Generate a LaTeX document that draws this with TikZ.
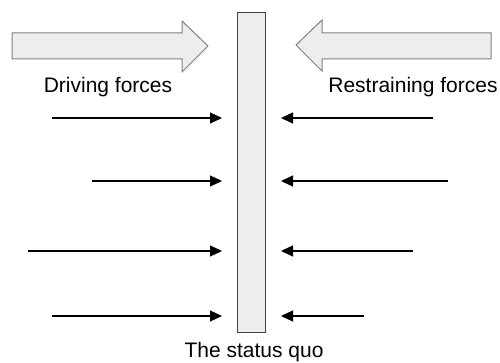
\documentclass[tikz,border=0pt]{standalone}
\usepackage{fontspec}
\setmainfont{Liberation Sans}
\usetikzlibrary{arrows.meta}
\begin{document}
\begin{tikzpicture}[x=1pt,y=-1pt,
  bigarrow/.style={draw=black!50, fill=black!7, line width=1pt, line join=miter},
  force/.style={line width=1.1pt, -{Triangle[length=12pt,width=11pt]}, shorten >=15pt},
  label/.style={font=\fontsize{21}{25}\selectfont, inner sep=0pt}]
\useasboundingbox (0,0) rectangle (500,363);
% the status quo bar
\node[draw=black!75, fill=black!7, line width=1pt, minimum width=28pt, minimum height=320pt,
      inner sep=0pt, anchor=north west] (bar) at (237,12) {};
% large direction arrows
\draw[bigarrow] (12,33) -- (182,33) -- (182,21) -- (208,46) -- (182,72) -- (182,59) -- (12,59) -- cycle;
\draw[bigarrow] (491,33) -- (322,33) -- (322,20) -- (296,45) -- (322,71) -- (322,59) -- (491,59) -- cycle;
% labels
\node[label] (drv) at (108,87) {Driving forces};
\node[label] (rst) at (413,87) {Restraining forces};
\node[label] (sq) at (254,352) {The status quo};
% tails of the force arrows
\coordinate (l1) at (52,118);  \coordinate (r1) at (433,118);
\coordinate (l2) at (92,181);  \coordinate (r2) at (448,181);
\coordinate (l3) at (28,251);  \coordinate (r3) at (413,251);
\coordinate (l4) at (52,316);  \coordinate (r4) at (364,316);
\foreach \i in {1,2,3,4} {
  \draw[force] (l\i) -- (bar.west |- l\i);
  \draw[force] (r\i) -- (bar.east |- r\i);
}
\end{tikzpicture}
\end{document}
